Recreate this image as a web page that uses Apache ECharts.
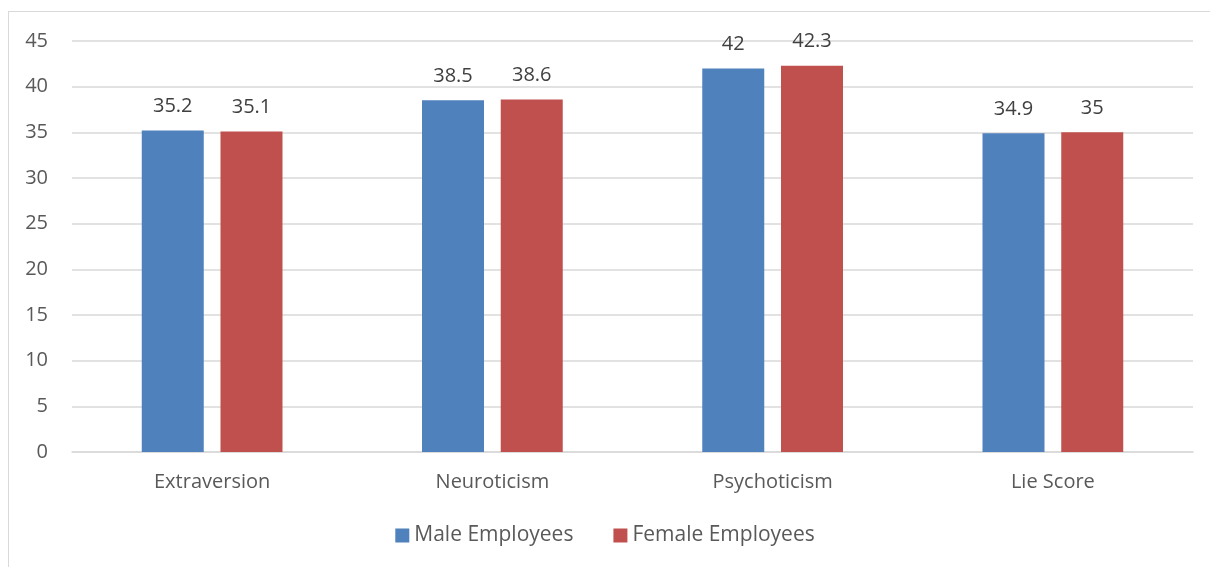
<!DOCTYPE html>
<html>
<head>
<meta charset="utf-8">
<script src="https://cdn.jsdelivr.net/npm/echarts@6/dist/echarts.min.js"></script>
<style>
  html, body { margin: 0; padding: 0; background: #fff; }
  #frame { position: absolute; left: 8px; top: 11px; width: 1220px; height: 580px; border: 1px solid #d9d9d9; box-sizing: border-box; }
  #chart { position: absolute; left: 0; top: 0; width: 1210px; height: 567px; }
</style>
</head>
<body>
<div id="frame"></div>
<div id="chart"></div>
<script>
const categories = ['Extraversion', 'Neuroticism', 'Psychoticism', 'Lie Score']
const maleValues = [35.2, 38.5, 42, 34.9]
const femaleValues = [35.1, 38.6, 42.3, 35]
const seriesNames = ['Male Employees', 'Female Employees']

const font = "'Open Sans', 'Noto Sans', sans-serif"
const textColor = '#595959'

const chart = echarts.init(document.getElementById('chart'))

const barLabel = { show: true, position: 'top', distance: 14, fontSize: 20, color: '#404040', fontFamily: font }

chart.setOption({
  animation: false,
  grid: { left: 72, right: 17, top: 41, bottom: 115, containLabel: false },
  legend: {
    bottom: 16, left: 'center',
    itemWidth: 14, itemHeight: 14, itemGap: 40,
    icon: 'rect',
    textStyle: { fontSize: 21, color: textColor, fontFamily: font },
    data: seriesNames,
  },
  xAxis: {
    type: 'category', data: categories,
    axisLine: { lineStyle: { color: '#d9d9d9', width: 1.5 } },
    axisTick: { show: false },
    axisLabel: { fontSize: 20, color: textColor, fontFamily: font, margin: 20 },
  },
  yAxis: {
    type: 'value', min: 0, max: 45, interval: 5,
    axisLine: { show: false }, axisTick: { show: false },
    axisLabel: { fontSize: 20, color: textColor, fontFamily: font, margin: 24 },
    splitLine: { lineStyle: { color: '#d9d9d9', width: 1.5 } },
  },
  series: [
    { name: seriesNames[0], type: 'bar', data: maleValues, barWidth: 62, barGap: '27%', itemStyle: { color: '#4f81bd' }, label: barLabel },
    { name: seriesNames[1], type: 'bar', data: femaleValues, barWidth: 62, barGap: '27%', itemStyle: { color: '#c0504d' }, label: barLabel },
  ],
})
</script>
</body>
</html>
